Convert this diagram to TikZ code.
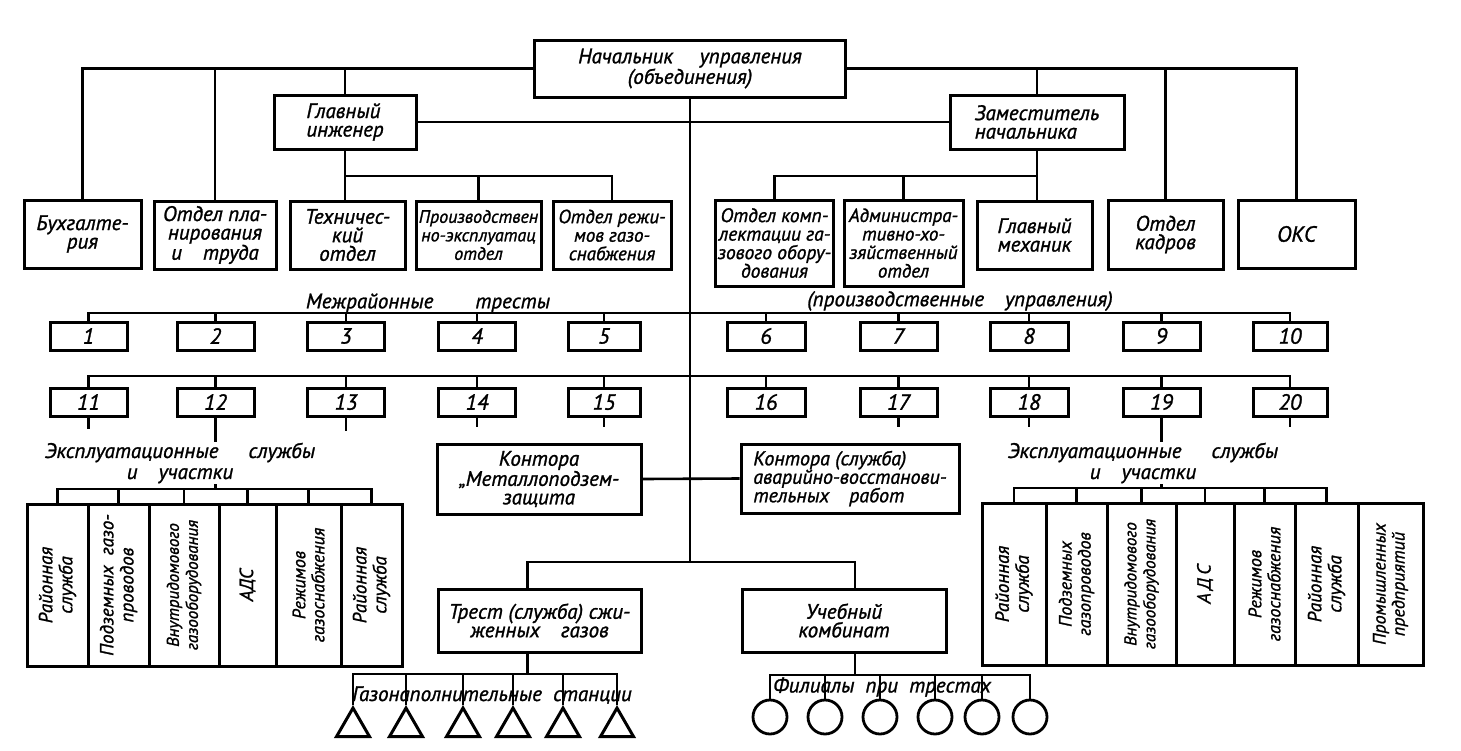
\documentclass[tikz,border=0pt]{standalone}
\usepackage{fontspec}
\setmainfont{PT Sans}[FakeBold=1.2]
\usetikzlibrary{shapes.geometric}
\tikzset{
  wh/.style 2 args={minimum width=#1pt, minimum height=#2pt},
  fs/.style={font=\itshape\fontsize{#1}{18.5}\selectfont},
  box/.style={draw, line width=3pt, inner sep=2pt, align=center, fs=21},
  sbox/.style={draw, line width=3pt, inner sep=0pt},
  conn/.style={line width=2.6pt},
  rt/.style={rotate=90, align=center, inner sep=0pt, font=\itshape\fontsize{19}{20}\selectfont},
  lbl/.style={align=center, inner sep=1pt, font=\itshape\fontsize{21}{21}\selectfont},
  tri/.style={draw, regular polygon, regular polygon sides=3, minimum size=38pt, inner sep=0pt, line width=3pt},
  circ/.style={draw, circle, minimum size=34pt, inner sep=0pt, line width=2.8pt},
  num/.style={box, wh={77}{28}, fs=22},
}
\begin{document}
\begin{tikzpicture}[x=1pt,y=-1pt]
\useasboundingbox (0,0) rectangle (1461,750);
% top level
\node[box, wh={311}{57}] (top) at (690,68.5) {Начальник\quad\ управления\\(объединения)};
\node[box, wh={142}{54}, align=left] (gi) at (345,122) {Главный\\инженер};
\node[box, wh={174}{54}, align=left] (zam) at (1037,122) {Заместитель\\начальника};
% departments
\node[box, wh={117}{68}] (buh) at (82.5,234) {Бухгалте-\\рия};
\node[box, wh={122}{68}] (plan) at (215,235) {Отдел пла-\\нирования\\и\quad труда};
\node[box, wh={115}{68}] (tech) at (347.5,235) {Техничес-\\кий\\отдел};
\node[box, wh={125}{68}, fs=18] (proizv) at (478.5,235) {Производствен\\но-эксплуатац\\отдел};
\node[box, wh={118}{68}, fs=19] (rezh) at (612,235) {Отдел режи-\\мов газо-\\снабжения};
\node[box, wh={117}{86}, fs=19.5] (kompl) at (774.5,243) {Отдел комп-\\лектации га-\\зового обору-\\дования};
\node[box, wh={119}{86}, fs=19] (admin) at (903.5,243) {Администра-\\тивно-хо-\\зяйственный\\отдел};
\node[box, wh={115}{68}] (meh) at (1034.5,235) {Главный\\механик};
\node[box, wh={115}{69}] (kadr) at (1165.5,234.5) {Отдел\\кадров};
\node[box, wh={117}{68}, fs=22] (oks) at (1296.5,234) {ОКС};
% labels
\node[lbl] (mezh) at (428,303) {Межрайонные\qquad тресты};
\node[lbl] (pupr) at (960,301) {(производственные\quad управления)};
% trusts row 1
\node[num] (t1) at (88.5,336) {1};
\node[num] (t2) at (215.5,336) {2};
\node[num] (t3) at (346,336) {3};
\node[num] (t4) at (477,336) {4};
\node[num, wh={72}{28}] (t5) at (604,336) {5};
\node[num, wh={78}{28}] (t6) at (766,336) {6};
\node[num] (t7) at (898.5,336) {7};
\node[num, wh={78}{28}] (t8) at (1029,336) {8};
\node[num] (t9) at (1161.5,336) {9};
\node[num, wh={74}{28}] (t10) at (1290,336) {10};
% trusts row 2
\node[num] (u11) at (88.5,402) {11};
\node[num] (u12) at (215.5,402) {12};
\node[num] (u13) at (346,402) {13};
\node[num] (u14) at (477,402) {14};
\node[num, wh={72}{28}] (u15) at (604,402) {15};
\node[num, wh={78}{28}] (u16) at (766,402) {16};
\node[num] (u17) at (898.5,402) {17};
\node[num, wh={78}{28}] (u18) at (1029,402) {18};
\node[num] (u19) at (1161.5,402) {19};
\node[num, wh={74}{28}] (u20) at (1290,402) {20};
% central boxes
\node[box, wh={204}{70}] (metal) at (539,479) {Контора\\„Металлоподзем-\\защита};
\node[box, wh={218}{69}, align=left, fs=20] (avar) at (850,478.5) {Контора (служба)\\аварийно-восстанови-\\тельных\quad работ};
\node[box, wh={203}{63}] (trest) at (539.5,620.5) {Трест (служба) сжи-\\женных\quad газов};
\node[box, wh={204}{63}] (ucheb) at (844,620.5) {Учебный\\комбинат};
% service boxes left
\node[sbox, wh={61}{162}] (sl1) at (57.5,585) {};
\node[sbox, wh={61}{162}] (sl2) at (118.5,585) {};
\node[sbox, wh={70}{162}] (sl3) at (184,585) {};
\node[sbox, wh={57}{162}] (sl4) at (247.5,585) {};
\node[sbox, wh={65}{162}] (sl5) at (308.5,585) {};
\node[sbox, wh={61}{162}] (sl6) at (371.5,585) {};
\node[rt] (sl1t) at (sl1) {Районная\\служба};
\node[rt] (sl2t) at (sl2) {Подземных\ \ газо-\\проводов};
\node[rt, font=\itshape\fontsize{17}{19}\selectfont] (sl3t) at (sl3) {Внутридомового\\газооборудования};
\node[rt] (sl4t) at (sl4) {АДС};
\node[rt, font=\itshape\fontsize{18}{19}\selectfont] (sl5t) at (sl5) {Режимов\\газоснабжения};
\node[rt] (sl6t) at (sl6) {Районная\\служба};
% service boxes right
\node[sbox, wh={64}{162}] (sr1) at (1014,584) {};
\node[sbox, wh={61}{162}] (sr2) at (1076.5,584) {};
\node[sbox, wh={69}{162}] (sr3) at (1141.5,584) {};
\node[sbox, wh={58}{162}] (sr4) at (1205,584) {};
\node[sbox, wh={61}{162}] (sr5) at (1264.5,584) {};
\node[sbox, wh={63}{162}] (sr6) at (1326.5,584) {};
\node[sbox, wh={65}{162}] (sr7) at (1390.5,584) {};
\node[rt] (sr1t) at (sr1) {Районная\\служба};
\node[rt, font=\itshape\fontsize{18}{19}\selectfont] (sr2t) at (sr2) {Подземных\\газопроводов};
\node[rt, font=\itshape\fontsize{17}{19}\selectfont] (sr3t) at (sr3) {Внутридомового\\газооборудования};
\node[rt] (sr4t) at (sr4) {А\,Д\,С};
\node[rt, font=\itshape\fontsize{18}{19}\selectfont] (sr5t) at (sr5) {Режимов\\газоснабжения};
\node[rt] (sr6t) at (sr6) {Районная\\служба};
\node[rt, font=\itshape\fontsize{18}{19}\selectfont] (sr7t) at (sr7) {Промышленных\\предприятий};
% triangles and circles
\node[tri] (g1) at (353,727) {};
\node[tri] (g2) at (406,727) {};
\node[tri] (g3) at (463,727) {};
\node[tri] (g4) at (513,727) {};
\node[tri] (g5) at (563,727) {};
\node[tri] (g6) at (617,727) {};
\node[circ] (f1) at (770,717) {};
\node[circ] (f2) at (825,717) {};
\node[circ] (f3) at (880,717) {};
\node[circ] (f4) at (935,717) {};
\node[circ] (f5) at (982,717) {};
\node[circ] (f6) at (1030,717) {};
% coordinates
\coordinate (gib) at (345,176);
\coordinate (zab) at (1037,176);
\coordinate (rowA) at (690,313);
\coordinate (rowB) at (690,376);
\coordinate (cb) at (690,562);
\coordinate (lbr) at (215.5,489);
\coordinate (rbr) at (1161.5,488);
\coordinate (gb) at (527.5,674);
\coordinate (fb) at (855,675);
% connectors top
\draw[conn] (top.west) -| (buh.north);
\draw[conn] (plan.north) |- (top.west);
\draw[conn] (gi.north) |- (top.west);
\draw[conn] (top.east) -| (oks.north);
\draw[conn] (zam.north) |- (top.east);
\draw[conn] (kadr.north) |- (top.east);
\draw[conn] (gi.east) -- (zam.west);
\draw[conn] (gi.south) -- (gib) -| (rezh.north);
\draw[conn] (gib) -- (gib |- tech.north);
\draw[conn] (proizv.north) -- (proizv.north |- gib);
\draw[conn] (zam.south) -- (zab) -| (kompl.north);
\draw[conn] (admin.north) -- (admin.north |- zab);
\draw[conn] (zab) -- (zab |- meh.north);
% central spine
\draw[conn] (top.south) -- (cb);
\draw[conn] ([xshift=-12pt]trest.north) |- (cb) -| ([xshift=11pt]ucheb.north);
\draw[conn] (metal.east) -- (avar.west);
% trust rows
\draw[conn] (t1.north) |- (rowA) -| (t10.north);
\foreach \n in {t2,t3,t4,t5,t6,t7,t8,t9} \draw[conn] (\n.north) -- (\n.north |- rowA);
\draw[conn] (u11.north) |- (rowB) -| (u20.north);
\foreach \n in {u12,u13,u14,u15,u16,u17,u18,u19} \draw[conn] (\n.north) -- (\n.north |- rowB);
\draw[conn] (u11.south) -- ++(0,11);
\draw[conn] (u13.south) -- ++(0,13);
\draw[conn] (u14.south) -- ++(0,9);
\draw[conn] (u15.south) -- ++(0,9);
\draw[conn] (u17.south) -- ++(0,9);
\draw[conn] (u18.south) -- ++(0,9);
\draw[conn] (u20.south) -- ++(0,9);
\draw[conn] (u12.south) -- (lbr);
\draw[conn] (u19.south) -- (rbr);
% service brackets
\draw[conn] (sl1.north) |- (lbr) -| (sl6.north);
\foreach \n in {sl2,sl3,sl4,sl5} \draw[conn] (\n.north) -- (\n.north |- lbr);
\draw[conn] (sr1.north) |- (rbr) -| (sr6.north);
\foreach \n in {sr2,sr3,sr4,sr5} \draw[conn] (\n.north) -- (\n.north |- rbr);
% gas stations and branches
\draw[conn] ([xshift=-12pt]trest.south) -- (gb);
\draw[conn] (g1.corner 1) |- (gb) -| (g6.corner 1);
\foreach \n in {g2,g3,g4,g5} \draw[conn] (\n.corner 1) -- (\n.corner 1 |- gb);
\draw[conn] ([xshift=11pt]ucheb.south) -- (fb);
\draw[conn] (f1.north) |- (fb) -| (f6.north);
\foreach \n in {f2,f3,f4,f5} \draw[conn] (\n.north) -- (\n.north |- fb);
% labels over lines
\node[lbl, fill=white] (explL) at (180,463) {Эксплуатационные\hspace{30pt}службы\\и\quad участки};
\node[lbl, fill=white] (explR) at (1143,463) {Эксплуатационные\hspace{30pt}службы\\и\quad участки};
\node[lbl] (gas) at (492,695) {Газонаполнительные\ \ станции};
\node[lbl] (fil) at (882,687) {Филиалы\ \ при\ \ трестах};
\end{tikzpicture}
\end{document}
